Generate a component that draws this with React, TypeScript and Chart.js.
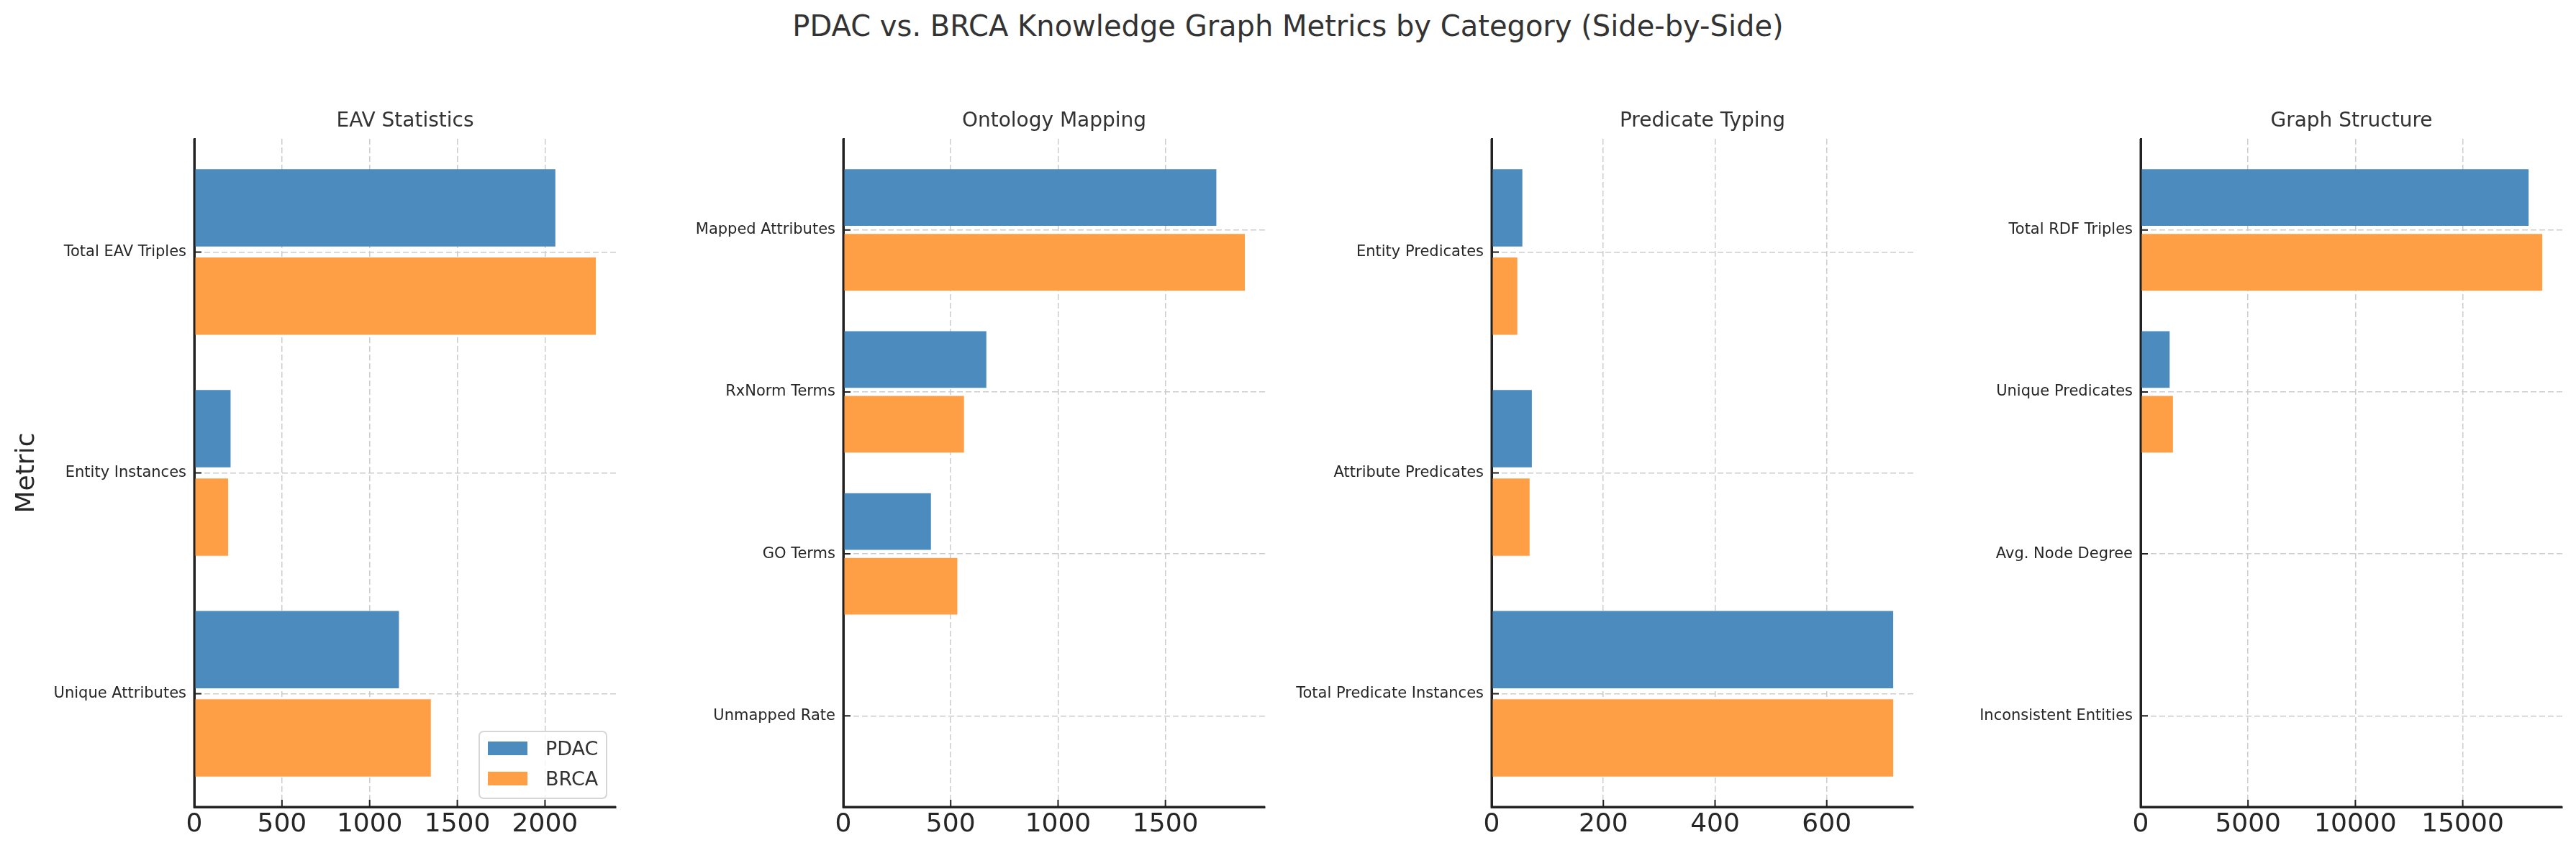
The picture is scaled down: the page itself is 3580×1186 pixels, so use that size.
import React, { useEffect, useRef } from 'react';
import { Chart, registerables } from 'chart.js';

Chart.register(...registerables);

// ---------------- data ----------------
const seriesLabels = ['PDAC', 'BRCA'];
const seriesColors = ['#4b8bbe', '#fe9f46'];

const figureTitle = 'PDAC vs. BRCA Knowledge Graph Metrics by Category (Side-by-Side)';
const yAxisTitle = 'Metric';

const eavTitle = 'EAV Statistics';
const eavCategories = ['Total EAV Triples', 'Entity Instances', 'Unique Attributes'];
const eavPdac = [2059, 207, 1167];
const eavBrca = [2290, 193, 1349];
const eavTicks = [0, 500, 1000, 1500, 2000];

const ontologyTitle = 'Ontology Mapping';
const ontologyCategories = ['Mapped Attributes', 'RxNorm Terms', 'GO Terms', 'Unmapped Rate'];
const ontologyPdac = [1737, 666, 408, 0.12];
const ontologyBrca = [1870, 562, 531, 0.1];
const ontologyTicks = [0, 500, 1000, 1500];

const predicateTitle = 'Predicate Typing';
const predicateCategories = ['Entity Predicates', 'Attribute Predicates', 'Total Predicate Instances'];
const predicatePdac = [55, 72, 719];
const predicateBrca = [46, 68, 719];
const predicateTicks = [0, 200, 400, 600];

const graphTitle = 'Graph Structure';
const graphCategories = ['Total RDF Triples', 'Unique Predicates', 'Avg. Node Degree', 'Inconsistent Entities'];
const graphPdac = [18068, 1350, 4.1, 0];
const graphBrca = [18704, 1504, 4.3, 0];
const graphTicks = [0, 5000, 10000, 15000];

// ---------------- layout / style ----------------
const FONT = "'DejaVu Sans', 'Liberation Sans', sans-serif";
const FIG_W = 3580;
const FIG_H = 1186;
const AXIS_LEFTS = [270, 1172, 2073, 2975];
const PLOT_W = 586;
const Y_AXIS_W = 290;
const RIGHT_PAD = 19;
const CANVAS_W = Y_AXIS_W + PLOT_W + RIGHT_PAD;
const PLOT_TOP = 193;
const PLOT_BOTTOM = 1122;
const TEXT_DARK = '#262626';
const TEXT_TITLE = '#333333';
const SPINE = '#222222';
const GRID = '#cccccc';

type Panel = {
  title: string;
  categories: string[];
  pdac: number[];
  brca: number[];
  ticks: number[];
};

const panels: Panel[] = [
  { title: eavTitle, categories: eavCategories, pdac: eavPdac, brca: eavBrca, ticks: eavTicks },
  { title: ontologyTitle, categories: ontologyCategories, pdac: ontologyPdac, brca: ontologyBrca, ticks: ontologyTicks },
  { title: predicateTitle, categories: predicateCategories, pdac: predicatePdac, brca: predicateBrca, ticks: predicateTicks },
  { title: graphTitle, categories: graphCategories, pdac: graphPdac, brca: graphBrca, ticks: graphTicks },
];

// ---------------- plugins ----------------
const panelTitlePlugin = {
  id: 'panelTitle',
  afterDraw(chart: any, _args: any, opts: any) {
    const { ctx, chartArea } = chart;
    ctx.save();
    ctx.font = `28px ${FONT}`;
    ctx.fillStyle = TEXT_TITLE;
    ctx.textAlign = 'center';
    ctx.textBaseline = 'alphabetic';
    ctx.fillText(opts.text, (chartArea.left + chartArea.right) / 2, chartArea.top - 17);
    ctx.restore();
  },
};

// spines drawn over the bars (as in the original), plus inward tick marks
const spinesAndTicksPlugin = {
  id: 'spinesAndTicks',
  afterDatasetsDraw(chart: any) {
    const { ctx, chartArea, scales } = chart;
    ctx.save();
    ctx.strokeStyle = SPINE;
    ctx.lineWidth = 3;
    ctx.beginPath();
    ctx.moveTo(chartArea.left, chartArea.top);
    ctx.lineTo(chartArea.left, chartArea.bottom);
    ctx.lineTo(chartArea.right, chartArea.bottom);
    ctx.stroke();
    ctx.lineWidth = 2;
    ctx.beginPath();
    for (const t of scales.x.ticks) {
      const px = scales.x.getPixelForValue(t.value);
      ctx.moveTo(px, chartArea.bottom);
      ctx.lineTo(px, chartArea.bottom - 10);
    }
    for (const t of scales.y.ticks) {
      const py = scales.y.getPixelForValue(t.value);
      ctx.moveTo(chartArea.left, py);
      ctx.lineTo(chartArea.left + 10, py);
    }
    ctx.stroke();
    ctx.restore();
  },
};

const boxLegendPlugin = {
  id: 'boxLegend',
  afterDraw(chart: any, _args: any, opts: any) {
    if (!opts.display) return;
    const { ctx, chartArea } = chart;
    const w = 177;
    const h = 93;
    const x = chartArea.right - 13 - w;
    const y = chartArea.bottom - 12 - h;
    ctx.save();
    ctx.beginPath();
    ctx.roundRect(x, y, w, h, 6);
    ctx.fillStyle = 'rgba(255,255,255,0.8)';
    ctx.fill();
    ctx.lineWidth = 2;
    ctx.strokeStyle = '#d6d6d6';
    ctx.stroke();
    chart.data.datasets.forEach((ds: any, i: number) => {
      const hy = y + 14 + i * 42;
      ctx.fillStyle = ds.backgroundColor;
      ctx.fillRect(x + 12, hy, 55, 19);
      ctx.fillStyle = TEXT_TITLE;
      ctx.font = `27px ${FONT}`;
      ctx.textAlign = 'left';
      ctx.textBaseline = 'alphabetic';
      ctx.fillText(ds.label, x + 92, hy + 19);
    });
    ctx.restore();
  },
};

function makeConfig(p: Panel, index: number): any {
  const n = p.categories.length;
  const extent = n - 1 + 2 * 0.375;
  const margin = 0.375 + 0.05 * extent;
  const maxV = Math.max(...p.pdac, ...p.brca) * 1.05;
  const series = [p.pdac, p.brca];
  return {
    type: 'bar',
    plugins: [panelTitlePlugin, spinesAndTicksPlugin, boxLegendPlugin],
    data: {
      datasets: series.map((vals, s) => ({
        label: seriesLabels[s],
        data: vals.map((v, i) => ({ x: v, y: i })),
        backgroundColor: seriesColors[s],
        borderWidth: 0,
        categoryPercentage: 0.8,
        barPercentage: 0.875,
      })),
    },
    options: {
      indexAxis: 'y',
      animation: false,
      responsive: false,
      events: [],
      layout: { padding: { top: PLOT_TOP, right: RIGHT_PAD, left: 0, bottom: 0 } },
      plugins: {
        legend: { display: false },
        tooltip: { enabled: false },
        title: { display: false },
        panelTitle: { text: p.title },
        boxLegend: { display: index === 0 },
      },
      scales: {
        x: {
          type: 'linear',
          position: 'bottom',
          offset: false,
          min: 0,
          max: maxV,
          afterBuildTicks: (s: any) => {
            s.ticks = p.ticks.map((v) => ({ value: v }));
          },
          ticks: {
            autoSkip: false,
            maxRotation: 0,
            callback: (v: number) => String(v),
            font: { family: FONT, size: 36 },
            color: TEXT_DARK,
            padding: 3,
          },
          grid: { color: GRID, lineWidth: 1.5, drawTicks: false, offset: false },
          border: { display: true, color: SPINE, width: 3, dash: [8, 4] },
          afterFit: (s: any) => {
            s.height = FIG_H - PLOT_BOTTOM;
          },
        },
        y: {
          type: 'linear',
          position: 'left',
          offset: false,
          reverse: true,
          min: -margin,
          max: n - 1 + margin,
          afterBuildTicks: (s: any) => {
            s.ticks = p.categories.map((_, i) => ({ value: i }));
          },
          ticks: {
            autoSkip: false,
            callback: (v: number) => p.categories[v] ?? '',
            font: { family: FONT, size: 21 },
            color: TEXT_DARK,
            padding: 11,
          },
          grid: { color: GRID, lineWidth: 1.5, drawTicks: false, offset: false },
          border: { display: true, color: SPINE, width: 3, dash: [8, 4] },
          title: {
            display: index === 0,
            text: yAxisTitle,
            font: { family: FONT, size: 36 },
            color: TEXT_DARK,
            padding: { top: 36, bottom: 0 },
          },
          afterFit: (s: any) => {
            s.width = Y_AXIS_W;
          },
        },
      },
    },
  };
}

function PanelChart({ panel, index }: { panel: Panel; index: number }) {
  const ref = useRef<HTMLCanvasElement | null>(null);
  useEffect(() => {
    if (!ref.current) return;
    const chart = new Chart(ref.current, makeConfig(panel, index));
    return () => chart.destroy();
  }, [panel, index]);
  return (
    <canvas
      ref={ref}
      width={CANVAS_W}
      height={FIG_H}
      style={{
        position: 'absolute',
        left: AXIS_LEFTS[index] - Y_AXIS_W,
        top: 0,
        width: CANVAS_W,
        height: FIG_H,
      }}
    />
  );
}

export default function App() {
  useEffect(() => {
    document.body.style.margin = '0';
    document.body.style.overflow = 'hidden';
  }, []);
  return (
    <div
      style={{
        position: 'absolute',
        left: 0,
        top: 0,
        width: FIG_W,
        height: FIG_H,
        overflow: 'hidden',
        background: '#ffffff',
      }}
    >
      <div
        style={{
          position: 'absolute',
          left: 0,
          top: 16,
          width: FIG_W,
          textAlign: 'center',
          fontFamily: FONT,
          fontSize: 40,
          lineHeight: '40px',
          color: TEXT_TITLE,
          whiteSpace: 'nowrap',
        }}
      >
        {figureTitle}
      </div>
      {panels.map((p, i) => (
        <PanelChart key={i} panel={p} index={i} />
      ))}
    </div>
  );
}
